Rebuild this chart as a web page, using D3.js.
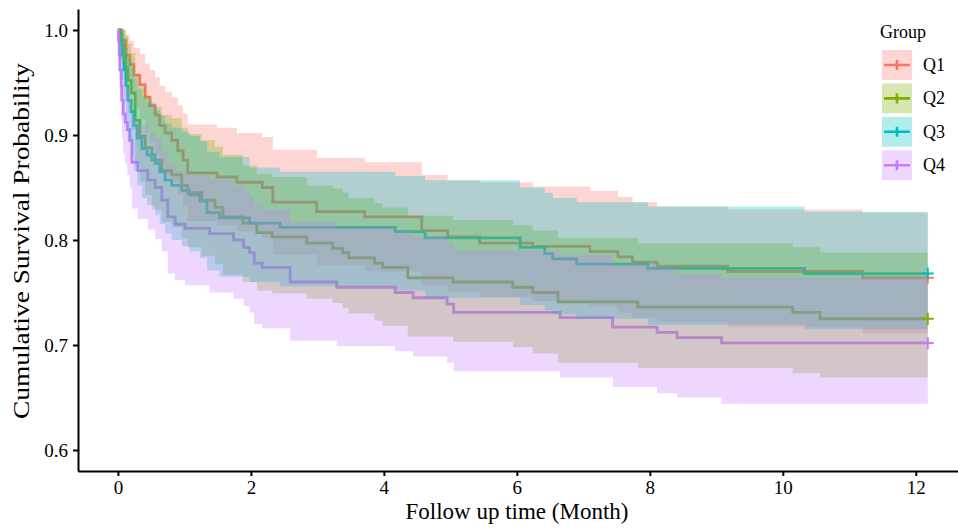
<!DOCTYPE html>
<html>
<head>
<meta charset="utf-8">
<script src="https://cdn.jsdelivr.net/npm/d3@7"></script>
<style>
  body { margin: 0; background: #fff; }
  svg text { font-family: "Liberation Serif", "Times New Roman", serif; fill: #000; }
</style>
</head>
<body>
<div id="chart-area"></div>
<script>
var groups = ["Q1", "Q2", "Q3", "Q4"];
var colors = ["#F8766D", "#7CAE00", "#00BFC4", "#C77CFF"];
var xTicks = [0, 2, 4, 6, 8, 10, 12];
var yTicks = [0.6, 0.7, 0.8, 0.9, 1.0];
var endTimes = [12.18, 12.18, 12.18, 12.18];

// step times, survival and confidence limits
var q1Time = [0, 0.06, 0.12, 0.18, 0.24, 0.33, 0.41, 0.48, 0.56, 0.63, 0.71, 0.81, 0.90, 0.98, 1.05, 1.49, 1.79, 2.17, 2.33, 2.99, 3.71, 4.57, 4.96, 5.44, 6.24, 7.10, 7.52, 7.74, 8.11, 9.17, 11.20];
var q1Surv = [1, .990, .976, .967, .957, .948, .936, .928, .919, .909, .902, .895, .885, .876, .864, .860, .855, .850, .836, .827, .822, .809, .803, .797, .794, .789, .784, .779, .775, .770, .764];
var q1Upper = [1, 1, .995, .990, .983, .977, .968, .962, .955, .947, .941, .936, .928, .920, .910, .907, .902, .898, .886, .878, .874, .862, .857, .855, .851, .847, .841, .836, .832, .829, .826];
var q1Lower = [1, .970, .950, .938, .925, .915, .902, .893, .882, .870, .862, .854, .843, .832, .818, .814, .808, .802, .786, .776, .770, .757, .751, .746, .742, .737, .731, .726, .722, .717, .711];

var q2Time = [0, 0.03, 0.06, 0.09, 0.12, 0.15, 0.20, 0.26, 0.33, 0.41, 0.51, 0.66, 0.81, 0.96, 1.05, 1.26, 1.46, 1.58, 1.88, 2.09, 2.32, 2.84, 3.23, 3.38, 3.47, 3.86, 3.98, 4.36, 5.04, 5.94, 6.24, 6.62, 7.82, 10.15, 10.56];
var q2Surv = [1, .995, .986, .976, .964, .952, .940, .914, .899, .888, .876, .866, .862, .852, .845, .838, .831, .822, .816, .807, .803, .797, .792, .788, .783, .778, .774, .764, .760, .755, .750, .741, .736, .731, .725];
var q2Upper = [1, 1, 1, 1, .995, .987, .978, .958, .946, .937, .927, .919, .916, .907, .901, .895, .889, .881, .871, .863, .860, .852, .849, .845, .840, .835, .831, .823, .819, .814, .809, .802, .797, .793, .788];
var q2Lower = [1, .985, .968, .953, .937, .921, .905, .874, .856, .843, .829, .817, .812, .801, .793, .785, .777, .767, .760, .752, .749, .744, .740, .735, .730, .723, .718, .708, .703, .698, .692, .683, .678, .673, .669];

var q3Time = [0, 0.02, 0.06, 0.09, 0.12, 0.15, 0.20, 0.24, 0.29, 0.36, 0.44, 0.56, 0.63, 0.71, 0.81, 0.96, 1.08, 1.23, 1.34, 1.53, 1.98, 2.44, 4.17, 4.62, 6.05, 6.42, 6.54, 6.90, 7.97, 10.33];
var q3Surv = [1, .990, .976, .962, .947, .933, .922, .909, .897, .887, .881, .873, .865, .857, .852, .847, .843, .837, .826, .821, .816, .812, .808, .802, .793, .787, .782, .777, .773, .768];
var q3Upper = [1, 1, 1, .993, .983, .973, .964, .954, .944, .936, .931, .924, .918, .911, .907, .903, .899, .894, .884, .879, .869, .865, .861, .857, .850, .845, .840, .836, .832, .827];
var q3Lower = [1, .972, .952, .932, .912, .894, .881, .866, .852, .840, .833, .824, .815, .806, .800, .794, .789, .783, .771, .765, .760, .756, .752, .745, .738, .733, .729, .725, .719, .715];

var q4Time = [0, 0.01, 0.02, 0.03, 0.05, 0.06, 0.08, 0.11, 0.14, 0.18, 0.21, 0.30, 0.45, 0.56, 0.66, 0.75, 0.86, 1.01, 1.38, 1.74, 1.89, 1.98, 2.05, 2.17, 2.59, 3.29, 4.17, 4.44, 4.95, 5.05, 6.65, 7.44, 8.11, 8.41, 9.08];
var q4Surv = [1, .990, .976, .962, .947, .933, .920, .912, .905, .895, .874, .866, .857, .850, .838, .822, .815, .811, .806, .800, .793, .788, .778, .774, .760, .755, .750, .745, .739, .731, .726, .717, .712, .707, .702];
var q4Upper = [1, 1, .995, .985, .975, .965, .955, .948, .943, .936, .918, .910, .902, .896, .885, .872, .866, .862, .858, .852, .846, .842, .833, .829, .817, .812, .808, .803, .797, .790, .786, .777, .773, .768, .764];
var q4Lower = [1, .971, .952, .934, .915, .897, .882, .872, .862, .850, .830, .820, .810, .801, .789, .768, .762, .757, .750, .744, .737, .731, .720, .716, .704, .699, .694, .689, .683, .675, .669, .660, .654, .650, .644];

var times = [q1Time, q2Time, q3Time, q4Time];
var survs = [q1Surv, q2Surv, q3Surv, q4Surv];
var uppers = [q1Upper, q2Upper, q3Upper, q4Upper];
var lowers = [q1Lower, q2Lower, q3Lower, q4Lower];

var margin = { left: 78, right: 0, top: 9, bottom: 61 };
var width = 891;
var height = 462;

var svg = d3.select("#chart-area")
  .append("svg")
  .attr("width", 958)
  .attr("height", 532);

var g = svg.append("g")
  .attr("transform", "translate(" + margin.left + ", " + margin.top + ")");

var x = d3.scaleLinear()
  .domain([-0.6, 12.8])
  .range([0, width]);

var y = d3.scaleLinear()
  .domain([0.58, 1.02])
  .range([height, 0]);

var series = groups.map(function(name, i){
  var pts = times[i].map(function(t, j){
    return { t: t, s: survs[i][j], lo: lowers[i][j], up: uppers[i][j] };
  });
  var last = pts[pts.length - 1];
  pts.push({ t: endTimes[i], s: last.s, lo: last.lo, up: last.up });
  return { name: name, color: colors[i], points: pts, end: pts[pts.length - 1] };
});

var line = d3.line()
  .x(function(d){ return x(d.t); })
  .y(function(d){ return y(d.s); })
  .curve(d3.curveStepAfter);

var area = d3.area()
  .x(function(d){ return x(d.t); })
  .y0(function(d){ return y(d.lo); })
  .y1(function(d){ return y(d.up); })
  .curve(d3.curveStepAfter);

// curves first, bands laid over them
g.selectAll(".km-line")
  .data(series)
  .enter().append("path")
  .attr("class", "km-line")
  .attr("d", function(d){ return line(d.points); })
  .attr("fill", "none")
  .attr("stroke", function(d){ return d.color; })
  .attr("stroke-width", 2.8);

g.selectAll(".km-band")
  .data(series)
  .enter().append("path")
  .attr("class", "km-band")
  .attr("d", function(d){ return area(d.points); })
  .attr("fill", function(d){ return d.color; })
  .attr("fill-opacity", 0.3)
  .attr("stroke", "none");

// censor marks at the end
g.selectAll(".censor")
  .data(series)
  .enter().append("path")
  .attr("class", "censor")
  .attr("d", function(d){
    var cx = x(d.end.t), cy = y(d.end.s);
    return "M" + (cx - 6) + "," + cy + "H" + (cx + 6) + "M" + cx + "," + (cy - 6) + "V" + (cy + 6);
  })
  .attr("stroke", function(d){ return d.color; })
  .attr("stroke-width", 2);

var xAxisGroup = g.append("g")
  .attr("class", "x-axis")
  .attr("transform", "translate(0, " + height + ")")
  .call(d3.axisBottom(x).tickValues(xTicks).tickSize(5).tickSizeOuter(0).tickPadding(5));

var yAxisGroup = g.append("g")
  .attr("class", "y-axis")
  .call(d3.axisLeft(y).tickValues(yTicks).tickSize(5).tickSizeOuter(0).tickPadding(5)
    .tickFormat(d3.format(".1f")));

g.selectAll(".domain").attr("stroke", "#000").attr("stroke-width", 2);
g.selectAll(".tick line").attr("stroke", "#000").attr("stroke-width", 2);
g.selectAll(".tick text")
  .style("font-family", "'Liberation Serif', serif")
  .style("font-size", "19px")
  .attr("fill", "#000");

// axis titles
svg.append("text")
  .attr("x", 517)
  .attr("y", 519)
  .attr("text-anchor", "middle")
  .style("font-size", "23px")
  .text("Follow up time (Month)");

svg.append("text")
  .attr("transform", "translate(29, 241) rotate(-90)")
  .attr("text-anchor", "middle")
  .attr("textLength", 356)
  .attr("lengthAdjust", "spacingAndGlyphs")
  .style("font-size", "23px")
  .text("Cumulative Survival Probability");

// legend
var legend = svg.append("g")
  .attr("transform", "translate(880, 0)");

legend.append("text")
  .attr("x", 0)
  .attr("y", 38)
  .style("font-size", "18px")
  .text("Group");

var keys = legend.selectAll(".key")
  .data(series)
  .enter().append("g")
  .attr("class", "key")
  .attr("transform", function(d, i){ return "translate(2, " + (50 + i * 33.4) + ")"; });

keys.append("rect")
  .attr("width", 30)
  .attr("height", 30)
  .attr("fill", function(d){ return d.color; })
  .attr("fill-opacity", 0.3);

keys.append("path")
  .attr("d", "M2,15H28M15,10V20")
  .attr("stroke", function(d){ return d.color; })
  .attr("stroke-width", 2.6);

keys.append("text")
  .attr("x", 41)
  .attr("y", 21)
  .style("font-size", "18px")
  .text(function(d){ return d.name; });
</script>
</body>
</html>
